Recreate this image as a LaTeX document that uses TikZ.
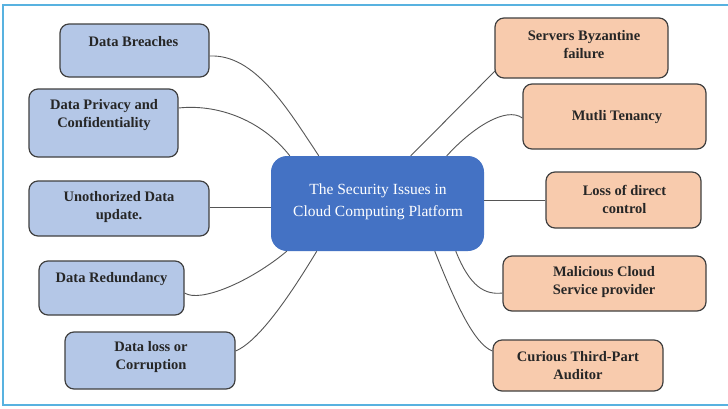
\documentclass[tikz,border=0pt]{standalone}
\usepackage{fontspec}
\setmainfont{Liberation Serif}
\usetikzlibrary{calc}
\definecolor{frameblue}{RGB}{88,178,224}
\definecolor{leftfill}{RGB}{180,199,231}
\definecolor{rightfill}{RGB}{248,203,173}
\definecolor{hubfill}{RGB}{68,114,196}
\definecolor{edgegray}{RGB}{64,64,64}
\definecolor{linkgray}{RGB}{85,85,85}

\begin{document}
\begin{tikzpicture}[x=1pt,y=-1pt,
  topic/.style={draw=edgegray, line width=1.2pt, rounded corners=9pt, inner sep=0pt},
  lefttopic/.style={topic, fill=leftfill},
  righttopic/.style={topic, fill=rightfill},
  hub/.style={fill=hubfill, rounded corners=16pt, inner sep=0pt,
    minimum width=213pt, minimum height=95pt},
  boxtext/.style={inner sep=0pt, align=center, text=black!85,
    font=\fontsize{14.5}{18}\selectfont\bfseries},
  hubtext/.style={inner sep=0pt, align=center, text=white,
    font=\fontsize{15.5}{21.5}\selectfont},
  link/.style={draw=linkgray, line width=0.9pt}
]
\useasboundingbox (0,0) rectangle (728,408);
\fill[white] (0,0) rectangle (728,408);

% outer frame, open on the right
\draw[frameblue, line width=2pt] (740,5) -- (3,5) -- (3,405) -- (740,405);

% central topic
\node[hub] (hub) at (377.5,203.5) {};
\node[hubtext] (hubt) at (378,202) {The Security Issues in\\Cloud Computing Platform};

% data-side issues
\node[lefttopic, minimum width=149pt, minimum height=53pt] (b1) at (134.5,50.5) {};
\node[lefttopic, minimum width=149pt, minimum height=68pt] (b2) at (103.5,123) {};
\node[lefttopic, minimum width=180pt, minimum height=55pt] (b3) at (119,208.5) {};
\node[lefttopic, minimum width=145pt, minimum height=54pt] (b4) at (111.5,288) {};
\node[lefttopic, minimum width=170pt, minimum height=57pt] (b5) at (150,360.5) {};

\node[boxtext] (t1) at (133.5,42) {Data Breaches};
\node[boxtext] (t2) at (104,115.5) {Data Privacy and\\Confidentiality};
\node[boxtext] (t3) at (119,207) {Unothorized Data\\update.};
\node[boxtext] (t4) at (111.5,279) {Data Redundancy};
\node[boxtext] (t5) at (151,357.5) {Data loss or\\Corruption};

% provider-side issues
\node[righttopic, minimum width=173pt, minimum height=60pt] (r1) at (581.5,48) {};
\node[righttopic, minimum width=183pt, minimum height=65pt] (r2) at (614.5,116.5) {};
\node[righttopic, minimum width=155pt, minimum height=56pt] (r3) at (623.5,200) {};
\node[righttopic, minimum width=203pt, minimum height=55pt] (r4) at (604.5,283.5) {};
\node[righttopic, minimum width=170pt, minimum height=51pt] (r5) at (578,365.5) {};

\node[boxtext] (s1) at (584,45) {Servers Byzantine\\failure};
\node[boxtext] (s2) at (617,117) {Mutli Tenancy};
\node[boxtext] (s3) at (624.5,199) {Loss of direct\\control};
\node[boxtext] (s4) at (604,282.5) {Malicious Cloud\\Service provider};
\node[boxtext] (s5) at (578,366) {Curious Third-Part\\Auditor};

% connectors, left side
\draw[link] ($(b1.east)+(0,5.5)$) .. controls (255,54) and (287,108) .. ($(hub.north west)+(48,0)$);
\draw[link] ($(b2.east)+(0,-15)$) .. controls (215,104) and (260,118) .. ($(hub.north west)+(19,0)$);
\draw[link] ($(b3.east)+(0,-1.5)$) -- ($(hub.west)+(0,3.5)$);
\draw[link] ($(b4.east)+(0,5)$) .. controls (200,303) and (250,282) .. ($(hub.south west)+(16,0)$);
\draw[link] ($(b5.east)+(0,-9.5)$) .. controls (262,340) and (298,282) .. ($(hub.south west)+(46,0)$);

% connectors, right side
\draw[link] ($(r1.south west)+(1,-8)$) -- ($(hub.north west)+(140,0)$);
\draw[link] ($(r2.west)+(0,1.5)$) .. controls (506,106) and (472,128) .. ($(hub.north west)+(176,0)$);
\draw[link] ($(hub.east)+(0,-3.5)$) -- (r3.west);
\draw[link] ($(hub.south west)+(185,0)$) .. controls (470,287) and (485,295) .. ($(r4.west)+(0,9.5)$);
\draw[link] ($(hub.south west)+(164,0)$) .. controls (455,302) and (474,344) .. ($(r5.west)+(0,-14.5)$);
\end{tikzpicture}
\end{document}
